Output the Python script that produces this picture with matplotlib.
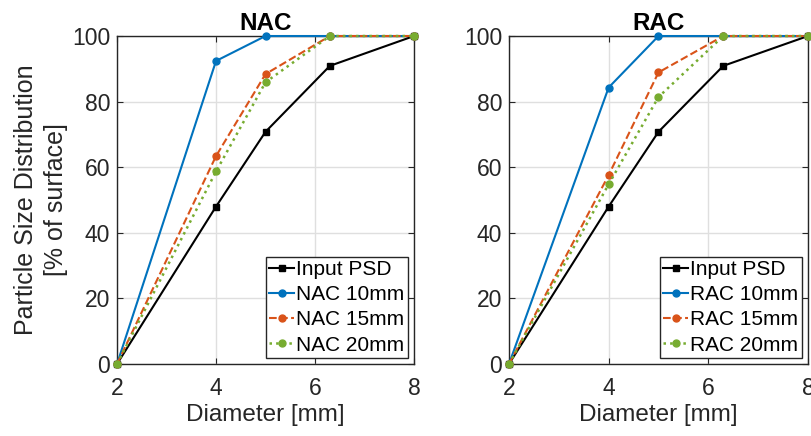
import matplotlib.pyplot as plt

plt.rcParams['font.family'] = ['Liberation Sans', 'DejaVu Sans']

diam = [2, 4, 5, 6.3, 8]
input_psd = [0, 48, 70.8, 90.9, 100]

nac_10 = [0, 92.4, 100, 100, 100]
nac_15 = [0, 63.4, 88.4, 100, 100]
nac_20 = [0, 58.7, 85.9, 100, 100]

rac_10 = [0, 84.3, 100, 100, 100]
rac_15 = [0, 57.6, 88.9, 100, 100]
rac_20 = [0, 54.8, 81.4, 100, 100]

blue = '#0072BD'
orange = '#D95319'
green = '#77AC30'
txt = '#262626'


def draw_panel(ax, name, s10, s15, s20):
    kw = dict(ms=5, clip_on=False, zorder=3)
    ax.plot(diam, input_psd, '-s', color='k', lw=1.5, label='Input PSD', **kw)
    ax.plot(diam, s10, '-o', color=blue, lw=1.5, label=name + ' 10mm', **kw)
    ax.plot(diam, s15, '--o', color=orange, lw=1.5, label=name + ' 15mm', **kw)
    ax.plot(diam, s20, ':o', color=green, lw=1.8, label=name + ' 20mm', **kw)
    ax.set_xlim(2, 8)
    ax.set_ylim(0, 100)
    ax.set_xticks([2, 4, 6, 8])
    ax.set_yticks([0, 20, 40, 60, 80, 100])
    ax.grid(True, color='#dfdfdf', lw=1.0)
    ax.set_axisbelow(True)
    ax.tick_params(direction='in', top=True, right=True, labelsize=16.5,
                   colors=txt, length=4)
    ax.tick_params(axis='x', pad=9)
    ax.tick_params(axis='y', pad=5)
    for s in ax.spines.values():
        s.set_color(txt)
        s.set_linewidth(1.0)
    ax.set_title(name, fontsize=17.5, fontweight='bold', pad=4)
    ax.set_xlabel('Diameter [mm]', fontsize=17.5, color=txt, labelpad=3)
    leg = ax.legend(loc='lower right', fontsize=15, handlelength=1.2,
                    handletextpad=0.1, borderpad=0.15, labelspacing=0.3,
                    fancybox=False, framealpha=1, borderaxespad=0.3)
    leg.get_frame().set_edgecolor(txt)
    leg.get_frame().set_linewidth(1.0)


fig = plt.figure(figsize=(8.11, 4.36), dpi=100)
ax1 = fig.add_axes([0.1443, 0.1651, 0.3662, 0.7523])
ax2 = fig.add_axes([0.6276, 0.1651, 0.3687, 0.7523])

draw_panel(ax1, 'NAC', nac_10, nac_15, nac_20)
draw_panel(ax2, 'RAC', rac_10, rac_15, rac_20)

ax1.set_ylabel('Particle Size Distribution\n[% of surface]', fontsize=18,
               color=txt, labelpad=3, linespacing=1.3)

fig.savefig('out.png', dpi=100)
